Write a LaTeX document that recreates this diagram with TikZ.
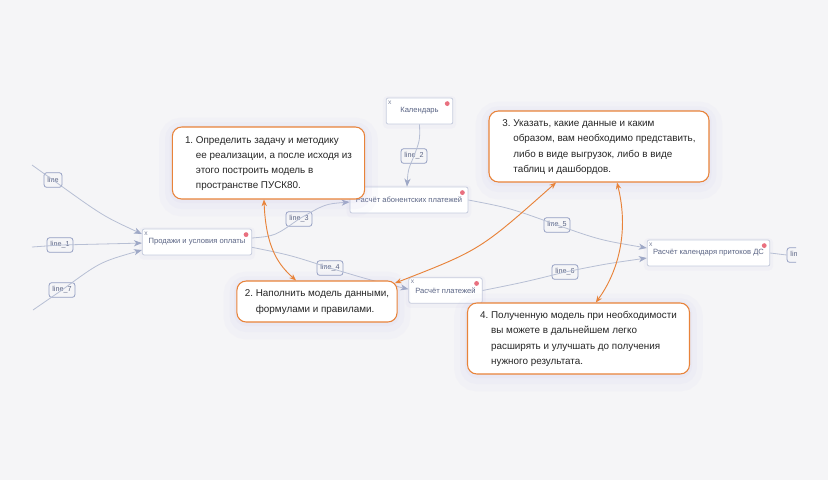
\documentclass[tikz,border=0pt]{standalone}
\usepackage{fontspec}
\setmainfont{Liberation Sans}
\usetikzlibrary{arrows.meta,shadows}
\definecolor{bgc}{HTML}{F5F5F7}
\definecolor{edgec}{HTML}{B7BFD4}
\definecolor{tipc}{HTML}{9EA8C6}
\definecolor{boxc}{HTML}{C6CCDD}
\definecolor{labc}{HTML}{939EC2}
\definecolor{txtc}{HTML}{5B6585}
\definecolor{dotc}{HTML}{E9707F}
\definecolor{orc}{HTML}{E8833A}
\definecolor{glowc}{HTML}{B8B4E6}
\begin{document}
\begin{tikzpicture}[x=0.75pt, y=-0.75pt,
  block/.style={draw=boxc, fill=white, rounded corners=1.5pt, line width=0.6pt,
    text=txtc, font=\fontsize{5.7}{7}\selectfont, minimum height=19.5pt, inner sep=2pt,
    general shadow={draw=glowc, draw opacity=.07, line width=5pt, shadow yshift=-1pt}},
  corner/.style={text=txtc!80, font=\fontsize{5}{5}\selectfont, inner sep=0pt},
  tag/.style={draw=labc, rounded corners=2pt, line width=0.6pt, text=txtc,
    font=\fontsize{5.4}{6}\selectfont, minimum height=11pt, inner xsep=2.5pt, inner ysep=1pt},
  link/.style={draw=edgec, line width=0.6pt, -{Stealth[length=6pt,width=4.6pt,inset=1.8pt,color=tipc]}},
  wire/.style={draw=edgec, line width=0.6pt},
  note/.style={draw=orc, fill=white, line width=0.8pt, rounded corners=7pt, align=left,
    inner xsep=9.5pt, text=black!85, font=\fontsize{7.4}{11.4}\selectfont,
    general shadow={draw=glowc, draw opacity=.05, line width=20pt, shadow yshift=-3pt},
    general shadow={draw=glowc, draw opacity=.06, line width=11pt, shadow yshift=-2pt},
    general shadow={draw=glowc, draw opacity=.07, line width=4pt, shadow yshift=-1pt}},
  hint/.style={draw=orc, line width=0.7pt, {Stealth[length=5pt,width=4pt]}-{Stealth[length=5pt,width=4pt]}}]
  \useasboundingbox (0,0) rectangle (828,480);
  \fill[bgc] (0,0) rectangle (828,480);

  \coordinate (s0) at (32,165);
  \coordinate (s1) at (32,247);
  \coordinate (s7) at (33,310);

  \node[block, minimum width=82pt] (prod) at (197,242) {Продажи и условия оплаты};
  \node[block, minimum width=50pt] (cal) at (419.5,111) {Календарь};
  \node[block, minimum width=88.5pt] (abon) at (409,200) {Расчёт абонентских платежей};
  \node[block, minimum width=55pt, minimum height=19pt] (plat) at (445.5,290.5) {Расчёт платежей};
  \node[block, minimum width=92pt] (dscal) at (708.5,253) {Расчёт календаря притоков ДС};
  \foreach \b in {prod,cal,abon,plat,dscal} {
    \node[corner] at ([xshift=3pt,yshift=-3.5pt]\b.north west) {x};
    \fill[dotc] ([xshift=-4.5pt,yshift=-4.5pt]\b.north east) circle (1.8pt);
  }

  \node[tag] (l0) at (53,180) {line};
  \node[tag] (l1) at (60,245) {line\_1};
  \node[tag] (l7) at (62,290) {line\_7};
  \node[tag] (l2) at (414,156) {line\_2};
  \node[tag] (l3) at (299,219) {line\_3};
  \node[tag] (l4) at (330,268) {line\_4};
  \node[tag] (l5) at (557,225) {line\_5};
  \node[tag] (l6) at (565,272) {line\_6};

  \draw[link] (s0) -- (l0.center) .. controls (103,216) .. ([yshift=6pt]prod.west);
  \draw[link] (s1) -- (l1.center) -- ([yshift=-0.8pt]prod.west);
  \draw[link] (s7) -- (l7.center) .. controls (100,262) .. ([yshift=-6pt]prod.west);
  \draw[link] (cal.south) .. controls (420,140) .. (l2.center) .. controls (408,170) .. ([xshift=-1.5pt]abon.north);
  \draw[link] ([yshift=3pt]prod.east) .. controls (275,236) .. (l3.center) .. controls (325,204) .. ([yshift=-1.5pt]abon.west);
  \draw[link] ([yshift=-4pt]prod.east) .. controls (290,255) .. (l4.center) .. controls (370,280) .. ([yshift=1pt]plat.west);
  \draw[link] (abon.east) .. controls (510,208) .. (l5.center) .. controls (600,240) .. ([yshift=3.75pt]dscal.west);
  \draw[link] (plat.east) .. controls (525,282) .. (l6.center) .. controls (605,264) .. ([yshift=-3.75pt]dscal.west);

  \begin{scope}
    \clip (0,0) rectangle (796,480);
    \node[tag] (l8) at (800,255) {line\_8};
    \draw[wire] (dscal.east) -- (l8.west);
  \end{scope}

  \node[note, minimum width=141.75pt, minimum height=54pt] (c1) at (268.5,163)
    {\begin{tabular}{@{}l@{~}l@{}}1. & Определить задачу и методику\\ & ее реализации, а после исходя из\\ & этого построить модель в\\ & пространстве ПУСК80.\end{tabular}};
  \node[note, minimum width=120pt, minimum height=30.75pt, inner xsep=6pt] (c2) at (317,301.5)
    {\begin{tabular}{@{}l@{~}l@{}}2. & Наполнить модель данными,\\ & формулами и правилами.\end{tabular}};
  \node[note, minimum width=165pt, minimum height=53.25pt] (c3) at (599,146.5)
    {\begin{tabular}{@{}l@{~}l@{}}3. & Указать, какие данные и каким\\ & образом, вам необходимо представить,\\ & либо в виде выгрузок, либо в виде\\ & таблиц и дашбордов.\end{tabular}};
  \node[note, minimum width=164pt, minimum height=53.25pt] (c4) at (578.5,338.5)
    {\begin{tabular}{@{}l@{~}l@{}}4. & Полученную модель при необходимости\\ & вы можете в дальнейшем легко\\ & расширять и улучшать до получения\\ & нужного результата.\end{tabular}};

  \draw[hint] ([xshift=-3.4pt]c1.south) .. controls (266,250) and (280,266) .. ([xshift=-15.75pt]c2.north);
  \draw[hint] ([xshift=-2pt,yshift=-2pt]c2.north east) .. controls (480,250) .. ([xshift=-32.25pt]c3.south);
  \draw[hint] ([xshift=13.5pt]c3.south) .. controls (630,235) and (616,275) .. ([xshift=13pt]c4.north);
\end{tikzpicture}
\end{document}
